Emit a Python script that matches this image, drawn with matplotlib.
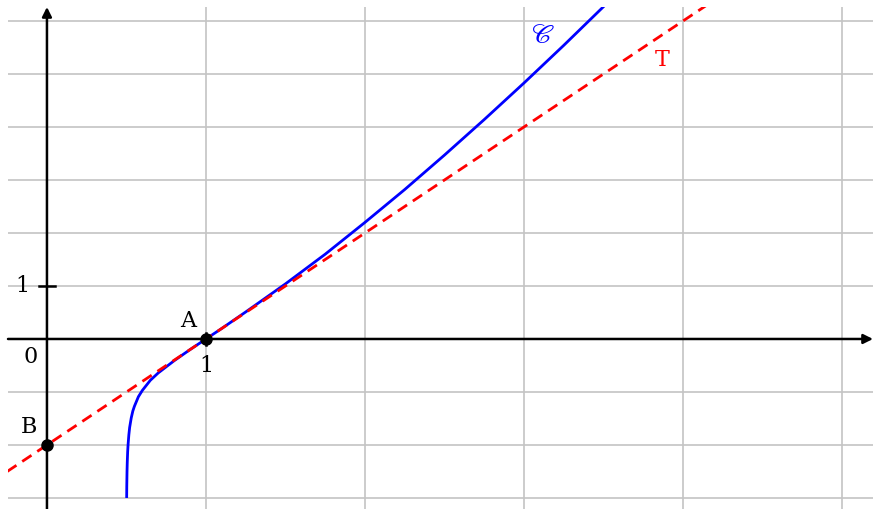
import matplotlib
matplotlib.use("Agg")
import matplotlib.pyplot as plt

# ---- data ----
curve_x = [0.50125, 0.502, 0.5035, 0.505, 0.5075, 0.51, 0.515, 0.52, 0.53, 0.54,
           0.55, 0.575, 0.6, 0.65, 0.7, 0.8, 0.9, 1.0, 1.1, 1.25, 1.5, 1.75,
           2.0, 2.25, 2.5, 2.75, 3.0, 3.25, 3.5, 3.55]
curve_y = [-3.00, -2.77, -2.50, -2.33, -2.13, -2.00, -1.81, -1.67, -1.49, -1.36,
           -1.27, -1.09, -0.97, -0.78, -0.64, -0.41, -0.20, 0.0, 0.20, 0.51, 1.04, 1.60,
           2.20, 2.82, 3.47, 4.14, 4.83, 5.54, 6.27, 6.42]
tangent_x = [-0.25, 4.25]
tangent_y = [-2.5, 6.5]
points_x = [1, 0]
points_y = [0, -2]
point_labels = ["A", "B"]
x_grid = [1, 2, 3, 4, 5]
y_grid = [-3, -2, -1, 1, 2, 3, 4, 5, 6]

W, H = 873, 509
fig = plt.figure(figsize=(W / 100, H / 100), dpi=100)
ax = fig.add_axes([8 / W, 0, (W - 8) / W, 502 / H])
xmin, xmax = -0.245, 5.195
ymin, ymax = -3.208, 6.264
ax.set_xlim(xmin, xmax)
ax.set_ylim(ymin, ymax)
for s in ax.spines.values():
    s.set_visible(False)
ax.set_xticks([])
ax.set_yticks([])

for gx in x_grid:
    ax.axvline(gx, color="#c4c4c4", lw=1.2, zorder=0)
for gy in y_grid:
    ax.axhline(gy, color="#c4c4c4", lw=1.2, zorder=0)

# axes with arrows
ax.annotate("", xy=(xmax, 0), xytext=(xmin, 0),
            arrowprops=dict(arrowstyle="-|>", lw=1.8, color="black",
                            mutation_scale=14, shrinkA=0, shrinkB=0), zorder=3)
ax.annotate("", xy=(0, ymax), xytext=(0, ymin),
            arrowprops=dict(arrowstyle="-|>", lw=1.8, color="black",
                            mutation_scale=14, shrinkA=0, shrinkB=0), zorder=3)
# tick marks
ax.plot([-0.05, 0.05], [1, 1], color="black", lw=1.8, zorder=3)
ax.plot([1, 1], [-0.12, 0.12], color="black", lw=1.8, zorder=3)

ax.plot(curve_x, curve_y, color="#0000ff", lw=2, zorder=4, solid_capstyle="butt")
ax.plot(tangent_x, tangent_y, color="#ff0000", lw=2, ls=(0, (4, 2.5)), zorder=5)
ax.plot(points_x, points_y, "o", color="black", ms=8, zorder=6)

fs = 16
font = "DejaVu Serif"
ax.text(0.887, 0.34, point_labels[0], fontsize=fs, family=font, ha="center", va="center")
ax.text(-0.113, -1.66, point_labels[1], fontsize=fs, family=font, ha="center", va="center")
ax.text(-0.10, -0.34, "0", fontsize=fs, family=font, ha="center", va="center")
ax.text(1.0, -0.51, "1", fontsize=fs, family=font, ha="center", va="center")
ax.text(-0.157, 1.0, "1", fontsize=fs, family=font, ha="center", va="center")
ax.text(3.12, 5.74, r"$\mathscr{C}$", fontsize=fs + 4, color="#0000ff",
        math_fontfamily="stix", ha="center", va="center")
ax.text(3.87, 5.26, "T", fontsize=fs, family=font, color="#ff0000", ha="center", va="center")

fig.savefig("out.png", dpi=100)
